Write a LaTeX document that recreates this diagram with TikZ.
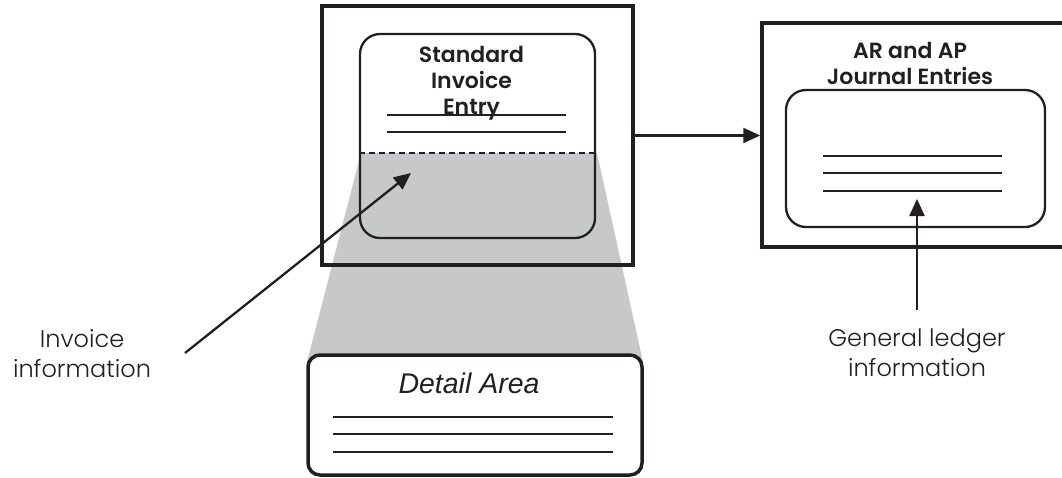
\documentclass[tikz,border=0pt]{standalone}
\usepackage{fontspec}
\usetikzlibrary{arrows.meta}
\IfFontExistsTF{Poppins Light}{\setmainfont{Poppins Light}}{\setmainfont{Poppins}}
\IfFontExistsTF{Poppins SemiBold}{\newfontfamily\headfont{Poppins SemiBold}}{\newfontfamily\headfont{Poppins}[BoldFont=* Bold]}
\newfontfamily\detailfont{Liberation Sans}
\definecolor{ink}{RGB}{35,31,32}
\definecolor{projgray}{RGB}{199,200,202}

\begin{document}
\begin{tikzpicture}[x=1pt,y=-1pt,
  frame/.style={draw=ink,line width=3.5pt,inner sep=0pt},
  panel/.style={draw=ink,line width=2.3pt,rounded corners=20pt,inner sep=0pt},
  rule/.style={draw=ink,line width=2.2pt},
  arr/.style={draw=ink,line width=2.3pt,-{Triangle[length=17pt,width=15pt]}},
  note/.style={font=\fontsize{24}{30}\selectfont,text=ink,align=center,inner sep=0pt},
  heading/.style={font=\headfont\fontsize{22}{26}\selectfont,text=ink,align=center,inner sep=0pt}]

\useasboundingbox (0,0) rectangle (1062,477);
\clip (0,0) rectangle (1062,477);
\fill[white] (0,0) rectangle (1062,477);

% shaded projection of the detail area
\fill[projgray] (361,153) -- (597,153) -- (643,362) -- (307,362) -- cycle;

% invoice entry window
\node[frame,minimum width=311pt,minimum height=259pt] (entry) at (477.5,135.5) {};
\node[panel,minimum width=235pt,minimum height=204pt] (form) at (477.5,136) {};
\draw[ink,line width=1.4pt,dash pattern=on 6pt off 4pt] (form.west |- 0,153) -- (form.east |- 0,153);
\node[heading,anchor=north] (formtitle) at (471.5,46) {Standard\\Invoice\\Entry};
\draw[rule] (387,115) -- (566,115);
\draw[rule] (387,132) -- (566,132);

% detail area
\node[panel,fill=white,line width=3.5pt,rounded corners=12pt,minimum width=334pt,minimum height=120pt] (detail) at (475,415) {};
\node[font=\detailfont\itshape\fontsize{28.5}{30}\selectfont,text=ink,anchor=base,inner sep=0pt] (detailtitle) at (469,393) {Detail Area};
\draw[rule] (333,417) -- (613,417);
\draw[rule] (333,434) -- (613,434);
\draw[rule] (333,452) -- (613,452);

% journal entries window
\node[frame,minimum width=330pt,minimum height=224pt] (journal) at (927,135) {};
\node[panel,minimum width=259pt,minimum height=137pt] (jpanel) at (915.5,158.5) {};
\node[heading,anchor=north] (jtitle) at (910,42) {AR and AP\\Journal Entries};
\draw[rule] (823,156) -- (1002,156);
\draw[rule] (823,173) -- (1002,173);
\draw[rule] (823,191) -- (1002,191);

% connectors
\draw[arr] (entry.east) -- (entry.east -| journal.west);

\node[note,anchor=north] (invnote) at (82,329) {Invoice\\information};
\coordinate (invtail) at (185,353);
\coordinate (invtip) at (411,173);
\draw[arr] (invtail) -- (invtip);

\node[note,anchor=north] (glnote) at (917,329) {General ledger\\information};
\coordinate (gltail) at (917,310);
\coordinate (gltip) at (917,199);
\draw[arr] (gltail) -- (gltip);
\end{tikzpicture}
\end{document}
